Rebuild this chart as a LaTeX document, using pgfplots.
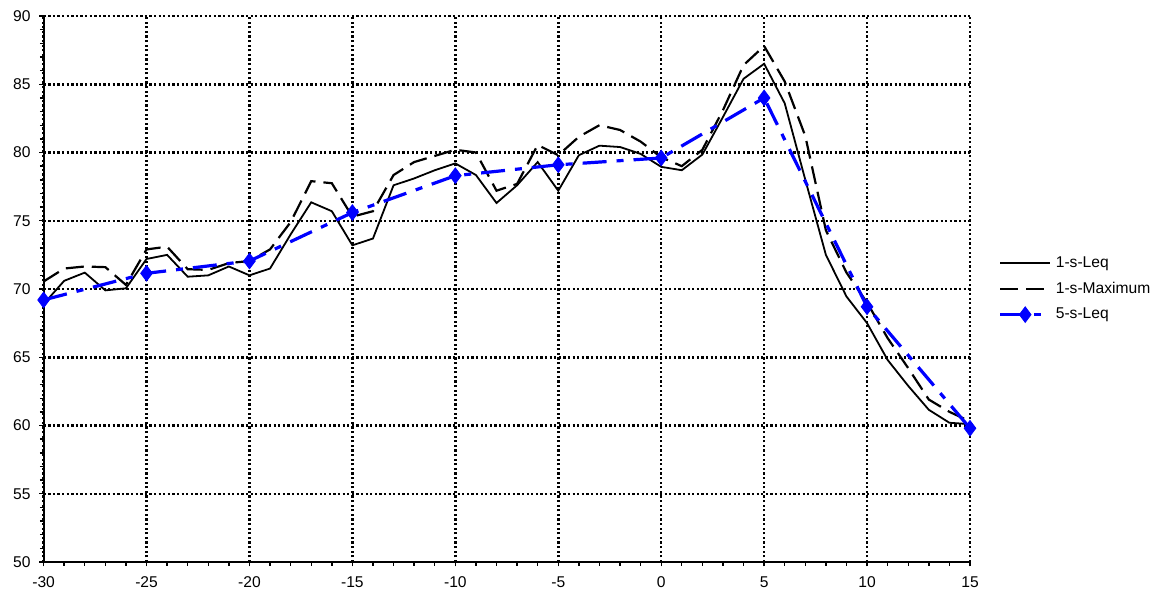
\documentclass[border=0pt]{standalone}
\usepackage{pgfplots}
\pgfplotsset{compat=1.18}
\usepackage{fontspec}
\setmainfont{Liberation Sans}
\definecolor{xlblue}{RGB}{0,0,255}
\begin{document}
\begin{tikzpicture}
\path (-21.8pt,-15.5pt) rectangle (562.2pt,281pt);
\begin{axis}[
  at={(0,0)}, anchor=south west,
  scale only axis, width=463.2pt, height=273pt,
  xmin=-30, xmax=15, ymin=50, ymax=90,
  xtick={-30,-25,...,15}, ytick={50,55,...,90},
  minor x tick num=4, minor y tick num=4,
  axis lines=left, axis line style={-, line width=0.9pt},
  tick align=outside, major tick length=2.2pt, minor tick length=1.8pt,
  tick style={line width=0.7pt, black},
  grid=major,
  major grid style={line width=1.25pt, dash pattern=on 1.15pt off 1.15pt, black},
  font=\fontsize{7.8}{9.2}\selectfont,
  xticklabel style={yshift=-1.5pt},
  yticklabel style={xshift=-0.8pt},
  /pgf/number format/assume math mode=true,
  clip=false,
  legend style={at={(1.024,0.5)}, anchor=west, draw=none, fill=none,
    font=\fontsize{7.8}{9.2}\selectfont, row sep=1.8pt,
    /tikz/every even column/.append style={column sep=0pt}},
  legend cell align=left,
  legend image code/.code={\draw[mark repeat=2,mark phase=2,#1] plot coordinates {(0pt,0pt) (12.5pt,0pt) (25pt,0pt)};},
]
\addplot[black, line width=0.9pt, mark=none] coordinates {
(-30,68.9) (-29,70.6) (-28,71.2) (-27,69.9) (-26,70.05) (-25,72.2) (-24,72.5)
(-23,70.9) (-22,71.0) (-21,71.65) (-20,71.0) (-19,71.5) (-18,74.0) (-17,76.35)
(-16,75.7) (-15,73.2) (-14,73.7) (-13,77.6) (-12,78.1) (-11,78.7) (-10,79.2)
(-9,78.35) (-8,76.3) (-7,77.6) (-6,79.3) (-5,77.2) (-4,79.8) (-3,80.5)
(-2,80.4) (-1,79.9) (0,78.95) (1,78.7) (2,79.85) (3,82.6) (4,85.4) (5,86.5)
(6,83.6) (7,78.0) (8,72.5) (9,69.45) (10,67.5) (11,64.8) (12,62.9) (13,61.15)
(14,60.2) (15,60.1)};
\addlegendentry{1-s-Leq}
\addplot[black, line width=1.1pt, dash pattern=on 9pt off 4pt, mark=none] coordinates {
(-30,70.55) (-29,71.5) (-28,71.65) (-27,71.6) (-26,70.3) (-25,72.9) (-24,73.1)
(-23,71.45) (-22,71.4) (-21,71.9) (-20,72.05) (-19,72.9) (-18,74.9) (-17,77.9)
(-16,77.75) (-15,75.3) (-14,75.7) (-13,78.35) (-12,79.3) (-11,79.75) (-10,80.2)
(-9,80.0) (-8,77.2) (-7,77.7) (-6,80.55) (-5,79.8) (-4,81.15) (-3,82.0)
(-2,81.65) (-1,80.8) (0,79.65) (1,79.0) (2,80.2) (3,83.1) (4,86.4) (5,87.8)
(6,85.2) (7,81.2) (8,74.3) (9,71.2) (10,69.0) (11,66.4) (12,64.2) (13,61.9)
(14,61.0) (15,60.3)};
\addlegendentry{1-s-Maximum}
\addplot[xlblue, line width=1.6pt, dash pattern=on 12pt off 5pt on 3.5pt off 5pt,
  mark=diamond*, mark size=3.9pt, mark options={solid, fill=xlblue, draw=xlblue, line width=0.4pt}] coordinates {
(-30,69.2) (-25,71.15) (-20,72.05) (-15,75.6) (-10,78.3) (-5,79.1) (0,79.6)
(5,84.0) (10,68.7) (15,59.8)};
\addlegendentry{5-s-Leq}
\end{axis}
\end{tikzpicture}
\end{document}
